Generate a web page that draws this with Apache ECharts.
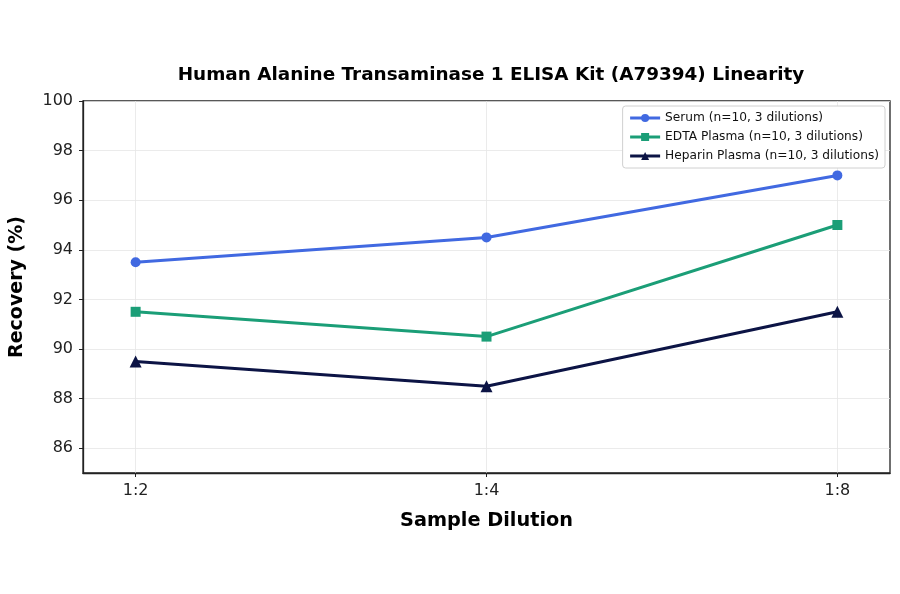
<!DOCTYPE html>
<html>
<head>
<meta charset="utf-8">
<script src="https://cdn.jsdelivr.net/npm/echarts@6/dist/echarts.min.js"></script>
<style>
  html, body { margin: 0; padding: 0; background: #fff; }
  #chart { width: 900px; height: 594px; }
</style>
</head>
<body>
<div id="chart"></div>
<script>
var dilutions = ['1:2', '1:4', '1:8'];
var serum = [93.5, 94.5, 97.0];
var edta = [91.5, 90.5, 95.0];
var heparin = [89.5, 88.5, 91.5];
var yTicks = [86, 88, 90, 92, 94, 96, 98, 100];
var seriesNames = ['Serum (n=10, 3 dilutions)', 'EDTA Plasma (n=10, 3 dilutions)', 'Heparin Plasma (n=10, 3 dilutions)'];
var colors = ['#4169e1', '#1b9e77', '#0c1445'];

// x is a value axis so the points sit inset from the frame like matplotlib
function pairs(vals) {
    var out = [];
    for (var i = 0; i < vals.length; i++) out.push([i, vals[i]]);
    return out;
}
var xIdx = dilutions.map(function (d, i) { return i; });

var chart = echarts.init(document.getElementById('chart'));

var font = 'DejaVu Sans';

option = {
    backgroundColor: '#fff',
    textStyle: { fontFamily: font },
    title: {
        text: 'Human Alanine Transaminase 1 ELISA Kit (A79394) Linearity',
        left: 486,
        textAlign: 'center',
        top: 61,
        textStyle: { fontFamily: font, fontSize: 18.4, fontWeight: 'bold', color: '#000' }
    },
    color: colors,
    grid: {
        left: 82, right: 10, top: 101, bottom: 121,
        show: true, borderColor: '#222', borderWidth: 1.3,
        containLabel: false
    },
    legend: {
        orient: 'vertical',
        right: 15, top: 106,
        itemWidth: 30, itemHeight: 10, itemGap: 7,
        padding: [6, 6, 6, 6],
        backgroundColor: '#fff',
        borderColor: '#d0d0d0', borderWidth: 1, borderRadius: 3,
        lineStyle: { width: 3 },
        textStyle: { fontFamily: font, fontSize: 12.2, color: '#111' },
        data: seriesNames
    },
    xAxis: {
        type: 'value',
        min: -0.15, max: 2.15,
        name: 'Sample Dilution',
        nameLocation: 'middle',
        nameGap: 38,
        nameTextStyle: { fontFamily: font, fontSize: 19.3, fontWeight: 'bold', color: '#000' },
        axisLine: { show: true, onZero: false, lineStyle: { color: '#222', width: 1.3 } },
        axisTick: { show: true, length: 4, customValues: xIdx, lineStyle: { color: '#222' } },
        axisLabel: {
            customValues: xIdx,
            margin: 10,
            fontFamily: font, fontSize: 16, color: '#222',
            formatter: function (v) { return dilutions[Math.round(v)]; }
        },
        splitLine: { show: true, lineStyle: { color: '#e6e6e6', width: 0.8 } }
    },
    yAxis: {
        type: 'value',
        min: 85, max: 100,
        name: 'Recovery (%)',
        nameLocation: 'middle',
        nameGap: 56,
        nameTextStyle: { fontFamily: font, fontSize: 19, fontWeight: 'bold', color: '#000' },
        axisLine: { show: true, onZero: false, lineStyle: { color: '#222', width: 1.3 } },
        axisTick: { show: true, length: 4, customValues: yTicks, lineStyle: { color: '#222' } },
        axisLabel: {
            customValues: yTicks,
            margin: 10,
            fontFamily: font, fontSize: 16, color: '#222'
        },
        splitLine: { show: true, lineStyle: { color: '#e6e6e6', width: 0.8 } }
    },
    series: [
        {
            name: seriesNames[0], type: 'line', data: pairs(serum),
            symbol: 'circle', symbolSize: 10,
            lineStyle: { width: 3 }, itemStyle: { color: colors[0] }
        },
        {
            name: seriesNames[1], type: 'line', data: pairs(edta),
            symbol: 'rect', symbolSize: 10,
            lineStyle: { width: 3 }, itemStyle: { color: colors[1] }
        },
        {
            name: seriesNames[2], type: 'line', data: pairs(heparin),
            symbol: 'triangle', symbolSize: 12,
            lineStyle: { width: 3 }, itemStyle: { color: colors[2] }
        }
    ]
};

chart.setOption(option, true);
</script>
</body>
</html>
